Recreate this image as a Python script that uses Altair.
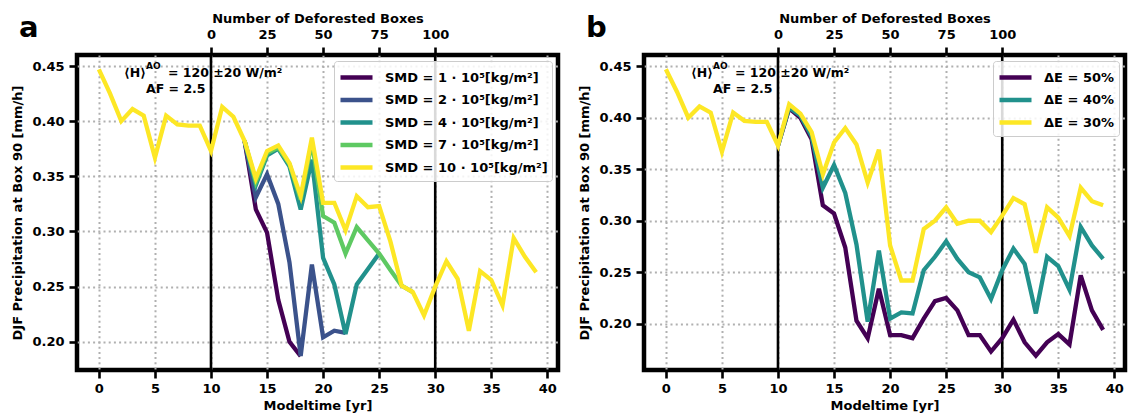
import altair as alt
import pandas as pd

FONT = "DejaVu Sans"

# ---------------- data ----------------
# panel a : SMD sensitivity
a_labels = ["SMD = 1 · 10⁵[kg/m²]", "SMD = 2 · 10⁵[kg/m²]", "SMD = 4 · 10⁵[kg/m²]",
            "SMD = 7 · 10⁵[kg/m²]", "SMD = 10 · 10⁵[kg/m²]"]
a_colors = ["#440154", "#3b528b", "#21918c", "#5ec962", "#fde725"]

a_smd1_years = list(range(13, 19))
a_smd1 = [0.382, 0.320, 0.299, 0.238, 0.200, 0.187]

a_smd2_years = list(range(13, 23))
a_smd2 = [0.382, 0.331, 0.352, 0.325, 0.272, 0.187, 0.270, 0.204, 0.210, 0.208]

a_smd4_years = list(range(13, 26))
a_smd4 = [0.382, 0.342, 0.369, 0.375, 0.359, 0.320, 0.365, 0.276, 0.252, 0.207,
          0.252, 0.266, 0.280]

a_smd7_years = list(range(13, 29))
a_smd7 = [0.382, 0.345, 0.371, 0.376, 0.361, 0.329, 0.381, 0.314, 0.308, 0.280,
          0.304, 0.292, 0.280, 0.265, 0.251, 0.245]

a_smd10_years = list(range(0, 40))
a_smd10 = [0.447, 0.425, 0.400, 0.411, 0.405, 0.367, 0.405, 0.397, 0.396, 0.396,
           0.373, 0.413, 0.404, 0.382, 0.348, 0.373, 0.378, 0.362, 0.332, 0.385,
           0.326, 0.326, 0.301, 0.332, 0.322, 0.323, 0.291, 0.251, 0.245, 0.224,
           0.250, 0.273, 0.257, 0.210, 0.264, 0.256, 0.233, 0.294, 0.277, 0.263]

# panel b : evaporation reduction sensitivity
b_labels = ["ΔE = 50%", "ΔE = 40%", "ΔE = 30%"]
b_colors = ["#440154", "#21918c", "#fde725"]

b_e50_years = list(range(10, 40))
b_e50 = [0.373, 0.409, 0.400, 0.379, 0.315, 0.307, 0.274, 0.203, 0.186, 0.234,
         0.189, 0.189, 0.186, 0.205, 0.222, 0.225, 0.213, 0.189, 0.189, 0.173,
         0.186, 0.204, 0.182, 0.169, 0.182, 0.190, 0.180, 0.247, 0.213, 0.194]

b_e40_years = list(range(10, 40))
b_e40 = [0.373, 0.410, 0.402, 0.382, 0.332, 0.354, 0.327, 0.277, 0.202, 0.271,
         0.205, 0.211, 0.210, 0.252, 0.265, 0.280, 0.263, 0.250, 0.245, 0.224,
         0.252, 0.273, 0.258, 0.210, 0.265, 0.256, 0.233, 0.294, 0.276, 0.263]

b_e30_years = list(range(0, 40))
b_e30 = [0.447, 0.425, 0.400, 0.411, 0.405, 0.367, 0.405, 0.397, 0.396, 0.396,
         0.373, 0.413, 0.404, 0.386, 0.345, 0.376, 0.390, 0.374, 0.337, 0.369,
         0.276, 0.242, 0.242, 0.292, 0.300, 0.313, 0.297, 0.300, 0.300, 0.289,
         0.305, 0.322, 0.316, 0.269, 0.313, 0.303, 0.285, 0.332, 0.319, 0.315]

# axes
x_ticks = [0, 5, 10, 15, 20, 25, 30, 35, 40]
y_ticks = [0.20, 0.25, 0.30, 0.35, 0.40, 0.45]
top_tick_years = [10, 15, 20, 25, 30]          # 0, 25, 50, 75, 100 deforested boxes
vlines = [10, 30]
x_domain = [-1.95, 40.95]
a_y_domain = [0.1744, 0.4600]
b_y_domain = [0.1551, 0.4609]

W, H = 481, 315


def frame(years_list, values_list, labels):
    rows = []
    for k, (yrs, vals, lab) in enumerate(zip(years_list, values_list, labels)):
        for t, v in zip(yrs, vals):
            rows.append({"year": t, "value": v, "series": lab, "k": k})
    return pd.DataFrame(rows)


def txt(text, x, y, size=12.5, align="left", baseline="alphabetic"):
    return alt.Chart().mark_text(text=text, align=align, baseline=baseline, font=FONT,
                                 fontSize=size, fontWeight="bold", color="black").encode(
        x=alt.value(x), y=alt.value(y))


def panel(df, labels, colors, y_domain, letter):
    xs = alt.Scale(domain=x_domain, nice=False, zero=False)
    ys = alt.Scale(domain=y_domain, nice=False, zero=False)

    rules = alt.Chart(pd.DataFrame({"t": vlines})).mark_rule(
        color="black", strokeWidth=2.6
    ).encode(
        x=alt.X("t:Q", scale=xs, axis=alt.Axis(
            orient="top", title="Number of Deforested Boxes", values=top_tick_years,
            labelExpr="format((datum.value - 10) * 5, 'd')", grid=False,
            labelPadding=6, titlePadding=3)),
    )

    lines = alt.Chart(df).mark_line(strokeWidth=4.3, strokeJoin="miter", strokeCap="butt").encode(
        x=alt.X("year:Q", scale=xs, axis=alt.Axis(
            orient="bottom", title="Modeltime [yr]", values=x_ticks, grid=True,
            labelPadding=4, titlePadding=4)),
        y=alt.Y("value:Q", scale=ys, axis=alt.Axis(
            title="DJF Precipitation at Box 90 [mm/h]", values=y_ticks, format=".2f",
            grid=True, labelPadding=5, titlePadding=7)),
        color=alt.Color("series:N", sort=labels,
                        scale=alt.Scale(domain=labels, range=colors),
                        legend=alt.Legend(
                            title=None, orient="top-right", offset=6,
                            symbolType="M-1,0H2.2", symbolSize=400, symbolStrokeWidth=4.5,
                            labelFont=FONT, labelFontSize=13, labelFontWeight="bold",
                            labelColor="black", labelLimit=0,
                            fillColor="rgba(255,255,255,0.85)",
                            strokeColor="#cccccc", cornerRadius=3, padding=4,
                            rowPadding=0.5, labelOffset=22)),
        detail="k:O",
    )

    layers = [
        rules, lines,
        txt("⟨H⟩", 47, 22),
        txt("AO", 69, 14, size=9),
        txt("= 120 ±20 W/m²", 91, 22),
        txt("AF = 2.5", 69, 38),
        txt(letter, -58, -18, size=29),
    ]
    return alt.layer(*layers).resolve_axis(x="independent").properties(width=W, height=H)


df_a = frame([a_smd1_years, a_smd2_years, a_smd4_years, a_smd7_years, a_smd10_years],
             [a_smd1, a_smd2, a_smd4, a_smd7, a_smd10], a_labels)
df_b = frame([b_e50_years, b_e40_years, b_e30_years], [b_e50, b_e40, b_e30], b_labels)

pa = panel(df_a, a_labels, a_colors, a_y_domain, "a")
pb = panel(df_b, b_labels, b_colors, b_y_domain, "b")

chart = alt.hconcat(pa, pb, spacing=86, bounds="flush").resolve_scale(
    color="independent").resolve_legend(color="independent").properties(
    padding={"left": 9, "top": 9, "right": 0, "bottom": 0}
).configure_view(
    stroke="black", strokeWidth=4.5
).configure_axis(
    labelFont=FONT, labelFontSize=13, labelFontWeight="bold", labelColor="black",
    titleFont=FONT, titleFontSize=13, titleFontWeight="bold", titleColor="black",
    tickColor="black", tickWidth=2.6, tickSize=8, domain=False,
    gridColor="#b0b0b0", gridDash=[2, 3.2], gridWidth=2, labelOverlap=False,
    labelFlush=False
)

chart.save("out.html", embed_options={"renderer": "svg", "actions": False})
